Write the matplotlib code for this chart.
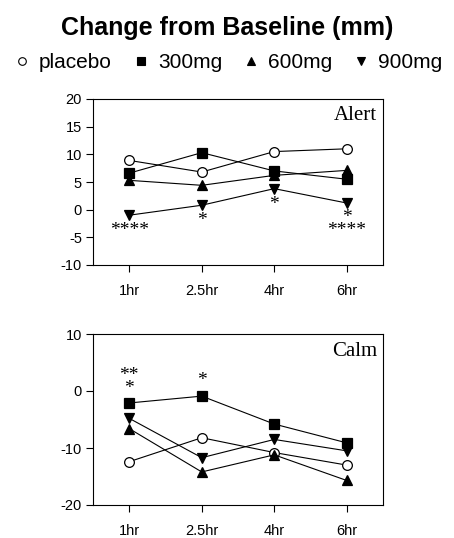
import matplotlib
matplotlib.use("Agg")
import matplotlib.pyplot as plt
from matplotlib.lines import Line2D

plt.rcParams['font.family'] = ['Liberation Sans', 'DejaVu Sans']
plt.rcParams['axes.unicode_minus'] = False

times = ['1hr', '2.5hr', '4hr', '6hr']
groups = ['placebo', '300mg', '600mg', '900mg']
markers = ['o', 's', '^', 'v']
faces = ['white', 'black', 'black', 'black']

# values
alert_placebo = [8.9, 6.8, 10.5, 11.0]
alert_300 = [6.6, 10.3, 7.0, 5.5]
alert_600 = [5.3, 4.4, 6.2, 7.1]
alert_900 = [-1.0, 0.8, 3.8, 1.2]

calm_placebo = [-12.4, -8.2, -10.8, -13.0]
calm_300 = [-2.1, -0.9, -5.8, -9.1]
calm_600 = [-6.6, -14.2, -11.2, -15.7]
calm_900 = [-4.8, -11.7, -8.5, -10.5]

# significance marks: (time index, y, text)
alert_stars = [(0, -3.8, '****'), (1, -2.0, '*'), (2, 1.0, '*'),
               (3, -1.4, '*'), (3, -3.7, '****')]
calm_stars = [(0, 2.7, '**'), (0, 0.5, '*'), (1, 1.8, '*')]

fig = plt.figure(figsize=(4.54, 5.38), dpi=100)

fig.text(0.5, 1 - 28 / 538, 'Change from Baseline (mm)', ha='center', va='center',
         fontsize=18, fontweight='bold')

handles = [Line2D([], [], ls='none', marker=m, mfc=f, mec='black', ms=5.5, mew=0.8)
           for m, f in zip(markers, faces)]
fig.legend(handles, groups, loc='center', bbox_to_anchor=(0.505, 1 - 63 / 538), ncol=4,
           frameon=False, fontsize=15, handlelength=0.6, handletextpad=0.5,
           columnspacing=1.1, borderpad=0)


def panel(rect, series, ylim, yticks, label, stars):
    ax = fig.add_axes(rect)
    x = range(len(times))
    for vals, m, f in zip(series, markers, faces):
        ax.plot(x, vals, color='black', lw=0.8, marker=m, mfc=f, mec='black',
                ms=7, mew=0.9)
    ax.set_xlim(-0.5, 3.5)
    ax.set_ylim(*ylim)
    ax.set_yticks(yticks)
    ax.set_xticks(list(x))
    ax.set_xticklabels(times)
    ax.tick_params(direction='out', length=5, width=0.8, labelsize=10.5)
    ax.tick_params(axis='x', pad=9)
    ax.tick_params(axis='y', pad=3)
    for s in ax.spines.values():
        s.set_linewidth(0.8)
    ax.text(0.98, 0.9, label, transform=ax.transAxes, ha='right', va='center',
            fontsize=15, family='Liberation Serif')
    for i, y, t in stars:
        ax.text(i, y, t, ha='center', va='center', fontsize=14,
                family='Liberation Serif')
    return ax


panel([93 / 454, 1 - 265 / 538, 290 / 454, 166 / 538],
      [alert_placebo, alert_300, alert_600, alert_900],
      (-10, 20), [-10, -5, 0, 5, 10, 15, 20], 'Alert', alert_stars)
panel([93 / 454, 1 - 505 / 538, 290 / 454, 171 / 538],
      [calm_placebo, calm_300, calm_600, calm_900],
      (-20, 10), [-20, -10, 0, 10], 'Calm', calm_stars)

fig.savefig('out.png', dpi=100)
